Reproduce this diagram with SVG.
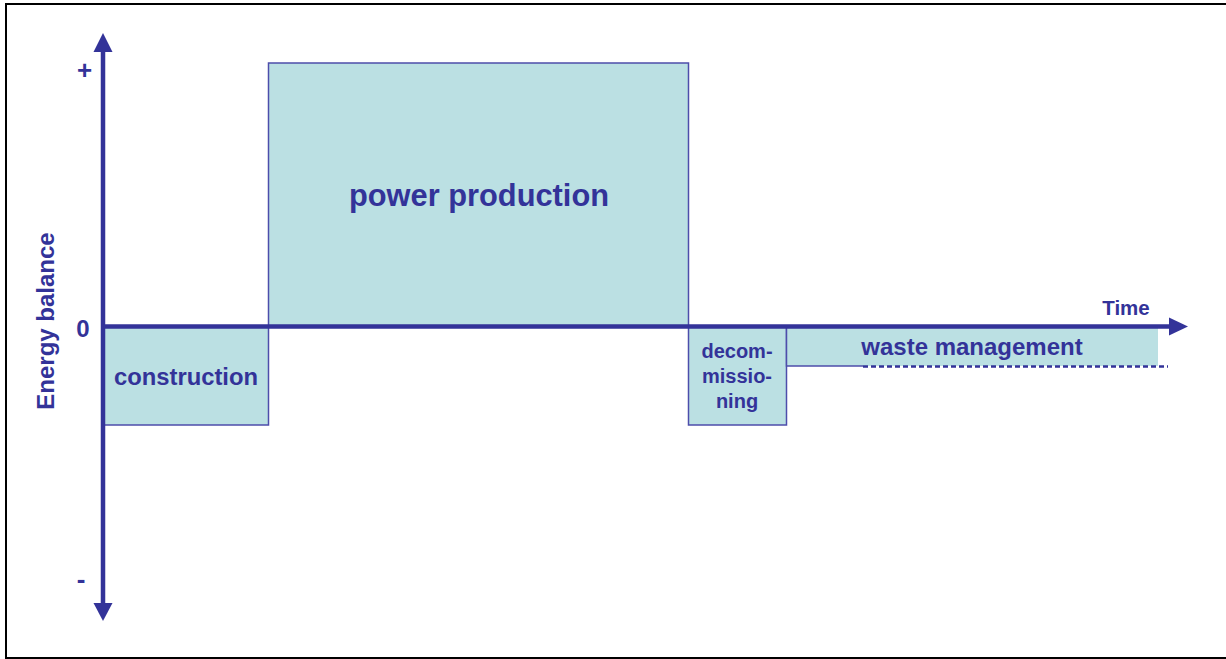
<svg xmlns="http://www.w3.org/2000/svg" width="1226" height="659" viewBox="0 0 1226 659">
<defs>
<style>
.box{fill:#bbe0e3;stroke:#4d4dab;stroke-width:1.5}
.axis{stroke:#333399;stroke-width:4.5;fill:none}
.head{fill:#333399}
.t{font-family:"Liberation Sans",Arial,sans-serif;font-weight:bold;fill:#333399;text-anchor:middle}
</style>
</defs>
<rect x="6" y="4" width="1226" height="654" fill="#ffffff" stroke="#000000" stroke-width="2"/>
<g id="power-production">
<rect class="box" x="268.5" y="63" width="420" height="263.5"/>
<text class="t" x="479" y="206" font-size="30.8">power production</text>
</g>
<g id="construction">
<rect class="box" x="103" y="326.5" width="165.5" height="98.5"/>
<text class="t" x="186" y="385" font-size="23.8">construction</text>
</g>
<g id="decommissioning">
<rect class="box" x="688.5" y="326.5" width="98" height="98.5"/>
<text class="t" x="737" y="358" font-size="20">decom-</text>
<text class="t" x="737" y="383" font-size="20">missio-</text>
<text class="t" x="737" y="408" font-size="20">ning</text>
</g>
<g id="waste-management">
<rect x="786.5" y="326.5" width="371.5" height="39.5" fill="#bbe0e3"/>
<path d="M786.5 326.5 V366 H863" fill="none" stroke="#4d4dab" stroke-width="1.5"/>
<line x1="863" y1="366.5" x2="1168" y2="366.5" stroke="#333399" stroke-width="2.5" stroke-dasharray="5,3"/>
<text class="t" x="972" y="355" font-size="24">waste management</text>
</g>
<g id="connectors">
<line class="axis" x1="103" y1="50" x2="103" y2="605"/>
<polygon class="head" points="103,33 112.5,52 93.5,52"/>
<polygon class="head" points="103,621 112.5,603 93.5,603"/>
<line class="axis" x1="103" y1="326.5" x2="1170" y2="326.5"/>
<polygon class="head" points="1188,326.5 1169,317.5 1169,335.5"/>
</g>
<g id="labels">
<text class="t" x="1126" y="315" font-size="20.5">Time</text>
<text class="t" x="84.5" y="79" font-size="26">+</text>
<text class="t" x="83" y="337" font-size="24">0</text>
<text class="t" x="81" y="588" font-size="26">-</text>
<text class="t" transform="translate(54,321) rotate(-90)" font-size="24">Energy balance</text>
</g>
</svg>
